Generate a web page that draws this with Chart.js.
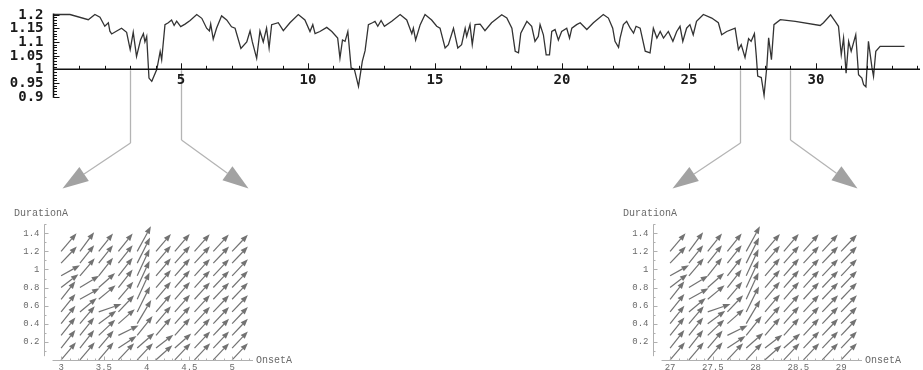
<!DOCTYPE html>
<html>
<head>
<meta charset="utf-8">
<title>Ratio over time with OnsetA / DurationA fields</title>
<script src="https://cdn.jsdelivr.net/npm/chart.js@4.4.1/dist/chart.umd.min.js"></script>
<style>
  html, body { margin: 0; padding: 0; background: #fff; }
  body { width: 923px; height: 370px; position: relative; overflow: hidden; }
  canvas { position: absolute; display: block; }
  #ratioChart { left: 0; top: 0; }
  #fieldLeft { left: 0; top: 200px; }
  #fieldRight { left: 609px; top: 200px; }
</style>
</head>
<body>
<canvas id="ratioChart" width="923" height="200"></canvas>
<canvas id="fieldLeft" width="300" height="170"></canvas>
<canvas id="fieldRight" width="314" height="170"></canvas>

<script>
// ---- top series ----
const timeX = [0, 0.63, 1.35, 1.61, 1.81, 2.0, 2.14, 2.2, 2.27, 2.47, 2.66, 2.86, 3.0, 3.12, 3.25, 3.41, 3.52, 3.58, 3.65, 3.74,
  3.85, 4.05, 4.18, 4.24, 4.37, 4.5, 4.63, 4.73, 4.83, 4.99, 5.16, 5.36, 5.62, 5.82, 6.01, 6.12, 6.17, 6.27, 6.4, 6.6,
  6.8, 6.99, 7.13, 7.36, 7.59, 7.72, 7.81, 7.98, 8.11, 8.24, 8.37, 8.47, 8.57, 8.83, 9.03, 9.29, 9.62, 9.88, 10.08, 10.19,
  10.28, 10.47, 10.74, 10.94, 11.17, 11.26, 11.36, 11.46, 11.57, 11.7, 11.83, 11.99, 12.14, 12.25, 12.38, 12.54, 12.64, 12.75, 12.88, 13.01,
  13.3, 13.63, 13.89, 14.09, 14.15, 14.24, 14.42, 14.61, 14.87, 15.07, 15.2, 15.4, 15.53, 15.73, 15.9, 16.05, 16.19, 16.25, 16.38, 16.47,
  16.58, 16.78, 16.97, 17.23, 17.63, 17.83, 18.03, 18.16, 18.29, 18.38, 18.62, 18.81, 18.94, 19.07, 19.14, 19.27, 19.38, 19.51, 19.6, 19.73,
  19.86, 19.99, 20.19, 20.3, 20.39, 20.58, 20.72, 20.98, 21.24, 21.63, 21.83, 22.0, 22.09, 22.23, 22.29, 22.42, 22.55, 22.69, 22.82, 22.92,
  23.08, 23.28, 23.47, 23.6, 23.74, 23.87, 24.0, 24.19, 24.37, 24.52, 24.65, 24.76, 24.91, 25.04, 25.17, 25.3, 25.57, 25.9, 26.16, 26.29,
  26.49, 26.82, 26.95, 27.06, 27.21, 27.35, 27.45, 27.58, 27.65, 27.71, 27.85, 27.96, 28.07, 28.14, 28.25, 28.35, 28.6, 29.19, 30.17, 30.3,
  30.58, 30.76, 30.89, 31.0, 31.09, 31.19, 31.29, 31.39, 31.57, 31.68, 31.81, 31.88, 31.97, 32.07, 32.21, 32.27, 32.36, 32.53, 33.49];
const ratioY = [1.2, 1.2, 1.181, 1.2, 1.19, 1.157, 1.17, 1.139, 1.129, 1.14, 1.15, 1.135, 1.072, 1.135, 1.047, 1.108, 1.13, 1.1, 1.12, 0.968,
  0.956, 1.0, 1.065, 1.035, 1.163, 1.17, 1.18, 1.16, 1.176, 1.156, 1.165, 1.178, 1.2, 1.186, 1.15, 1.14, 1.165, 1.11, 1.15, 1.195,
  1.18, 1.155, 1.15, 1.076, 1.1, 1.14, 1.1, 1.04, 1.14, 1.1, 1.15, 1.078, 1.163, 1.17, 1.141, 1.17, 1.2, 1.18, 1.138, 1.163,
  1.13, 1.138, 1.153, 1.138, 1.114, 1.041, 1.107, 1.102, 1.138, 1.005, 0.999, 0.938, 1.029, 1.068, 1.163, 1.17, 1.175, 1.157, 1.178, 1.157,
  1.175, 1.2, 1.18, 1.13, 1.15, 1.107, 1.163, 1.2, 1.18, 1.157, 1.15, 1.078, 1.09, 1.15, 1.078, 1.09, 1.15, 1.12, 1.163, 1.09,
  1.163, 1.165, 1.141, 1.17, 1.199, 1.187, 1.15, 1.066, 1.06, 1.132, 1.175, 1.157, 1.102, 1.12, 1.163, 1.126, 1.053, 1.053, 1.138, 1.145,
  1.107, 1.138, 1.15, 1.114, 1.15, 1.163, 1.17, 1.145, 1.17, 1.2, 1.187, 1.15, 1.102, 1.08, 1.114, 1.163, 1.175, 1.15, 1.132, 1.157,
  1.15, 1.066, 1.06, 1.15, 1.114, 1.138, 1.114, 1.138, 1.102, 1.138, 1.157, 1.102, 1.15, 1.163, 1.126, 1.175, 1.2, 1.187, 1.17, 1.126,
  1.138, 1.15, 1.072, 1.09, 1.043, 1.112, 1.102, 1.13, 1.053, 0.975, 0.97, 0.905, 1.011, 1.115, 1.035, 1.163, 1.181, 1.175, 1.16, 1.17,
  1.199, 1.175, 1.157, 1.053, 1.114, 0.986, 1.102, 1.066, 1.126, 0.98, 0.968, 0.944, 0.936, 1.102, 1.005, 0.974, 1.066, 1.084, 1.084];
const timeTicks = [5, 10, 15, 20, 25, 30];
const ratioTicks = [0.9, 0.95, 1, 1.05, 1.1, 1.15, 1.2];
const zoomMarks = [3, 5, 27, 29];

// ---- vector fields ----
const onsetLeft = [3, 3.22, 3.44, 3.67, 3.89, 4.11, 4.33, 4.56, 4.78, 5];
const onsetRight = [27, 27.22, 27.44, 27.67, 27.89, 28.11, 28.33, 28.56, 28.78, 29];
const durationA = [0, 0.13, 0.27, 0.4, 0.53, 0.67, 0.8, 0.93, 1.07, 1.2];
const onsetTicksLeft = [3, 3.5, 4, 4.5, 5];
const onsetTicksRight = [27, 27.5, 28, 28.5, 29];
const durationTicks = [0.2, 0.4, 0.6, 0.8, 1, 1.2, 1.4];
const onsetRangeLeft = [2.8, 5.244];
const onsetRangeRight = [26.8, 29.244];
// direction in degrees, top row (DurationA 1.2) first
const fieldAngle = [
  [48, 52, 50, 50, 60, 48, 48, 47, 46, 45],
  [45, 50, 50, 50, 62, 48, 47, 46, 45, 45],
  [28, 48, 50, 50, 64, 48, 47, 46, 45, 45],
  [36, 30, 40, 50, 64, 48, 47, 46, 45, 45],
  [50, 28, 38, 48, 64, 48, 47, 46, 45, 45],
  [50, 38, 18, 45, 62, 48, 47, 46, 45, 45],
  [50, 48, 35, 40, 58, 48, 47, 46, 45, 45],
  [50, 50, 42, 25, 50, 48, 47, 46, 45, 45],
  [50, 50, 48, 32, 40, 36, 40, 45, 45, 45],
  [48, 48, 48, 45, 45, 40, 45, 45, 45, 45]
];
const fieldMagnitude = [
  [0.27, 0.27, 0.26, 0.26, 0.32, 0.26, 0.26, 0.26, 0.26, 0.26],
  [0.26, 0.26, 0.26, 0.26, 0.32, 0.26, 0.26, 0.26, 0.26, 0.26],
  [0.25, 0.26, 0.26, 0.26, 0.33, 0.26, 0.26, 0.26, 0.26, 0.26],
  [0.25, 0.26, 0.25, 0.26, 0.33, 0.26, 0.26, 0.26, 0.26, 0.26],
  [0.26, 0.26, 0.25, 0.26, 0.33, 0.26, 0.26, 0.26, 0.26, 0.26],
  [0.26, 0.25, 0.28, 0.26, 0.32, 0.26, 0.26, 0.26, 0.26, 0.26],
  [0.26, 0.26, 0.25, 0.25, 0.31, 0.26, 0.26, 0.26, 0.26, 0.26],
  [0.26, 0.26, 0.26, 0.26, 0.28, 0.26, 0.26, 0.26, 0.26, 0.26],
  [0.26, 0.26, 0.26, 0.25, 0.26, 0.25, 0.25, 0.26, 0.26, 0.26],
  [0.26, 0.26, 0.26, 0.26, 0.26, 0.25, 0.26, 0.26, 0.26, 0.26]
];

function drawArrow(ctx, x1, y1, x2, y2, head, halfW) {
  const a = Math.atan2(y2 - y1, x2 - x1);
  const bx = x2 - head * Math.cos(a), by = y2 - head * Math.sin(a);
  ctx.beginPath();
  ctx.moveTo(x1, y1);
  ctx.lineTo(bx, by);
  ctx.stroke();
  ctx.beginPath();
  ctx.moveTo(x2, y2);
  ctx.lineTo(bx + halfW * Math.sin(a), by - halfW * Math.cos(a));
  ctx.lineTo(bx - halfW * Math.sin(a), by + halfW * Math.cos(a));
  ctx.closePath();
  ctx.fill();
}

// axes crossing at (0, 1), ticks, labels and the zoom connectors
const ratioAxes = {
  id: 'ratioAxes',
  afterDraw(chart) {
    const { ctx, scales: { x, y } } = chart;
    const ax = Math.round(x.getPixelForValue(0)) - 0.5;
    const ay = y.getPixelForValue(1);
    ctx.save();

    // connectors down to the field plots
    ctx.strokeStyle = '#b4b4b4';
    ctx.fillStyle = '#a2a2a2';
    ctx.lineWidth = 1.3;
    zoomMarks.forEach((m, i) => {
      const px = Math.round(x.getPixelForValue(m)) + 0.5;
      const left = i % 2 === 0;
      const bend = left ? 143 : 140;
      ctx.beginPath();
      ctx.moveTo(px, ay + 1);
      ctx.lineTo(px, bend);
      ctx.stroke();
      drawArrow(ctx, px, bend, left ? px - 68 : px + 67, 188.5, 26, 8.5);
    });

    ctx.strokeStyle = '#111';
    ctx.lineWidth = 1.5;
    ctx.beginPath();
    ctx.moveTo(ax, y.getPixelForValue(1.2) - 1);
    ctx.lineTo(ax, y.getPixelForValue(0.9) + 1);
    ctx.moveTo(ax, ay);
    ctx.lineTo(x.right, ay);
    ctx.stroke();

    ctx.lineWidth = 1;
    ctx.beginPath();
    for (let k = 90; k <= 120; k++) {
      const py = Math.round(y.getPixelForValue(k / 100)) + 0.5;
      ctx.moveTo(ax, py);
      ctx.lineTo(ax + (k % 5 === 0 ? 6 : 3.5), py);
    }
    for (let t = 1; t <= 34; t++) {
      const px = Math.round(x.getPixelForValue(t)) + 0.5;
      ctx.moveTo(px, ay);
      ctx.lineTo(px, ay - (t % 5 === 0 ? 6 : 3.5));
    }
    ctx.stroke();

    ctx.fillStyle = '#1a1a1a';
    ctx.font = 'bold 14px "DejaVu Sans Mono"';
    ctx.textAlign = 'right';
    ctx.textBaseline = 'middle';
    ratioTicks.forEach(v => ctx.fillText(String(v), ax - 10, y.getPixelForValue(v) + 0.5));
    ctx.textAlign = 'center';
    ctx.textBaseline = 'top';
    timeTicks.forEach(v => ctx.fillText(String(v), x.getPixelForValue(v), ay + 4));
    ctx.restore();
  }
};

new Chart(document.getElementById('ratioChart'), {
  type: 'line',
  data: {
    datasets: [{
      data: timeX.map((t, i) => ({ x: t, y: ratioY[i] })),
      borderColor: '#333',
      borderWidth: 1.3,
      pointRadius: 0,
      tension: 0,
      clip: 4
    }]
  },
  options: {
    responsive: false,
    animation: false,
    devicePixelRatio: 1,
    layout: { padding: { left: 54, right: 3, top: 14.5, bottom: 103.3 } },
    scales: {
      x: { type: 'linear', display: false, min: 0, max: 34.1 },
      y: { type: 'linear', display: false, min: 0.9, max: 1.2 }
    },
    plugins: { legend: { display: false }, tooltip: { enabled: false } }
  },
  plugins: [ratioAxes]
});

// arrows, axes and labels of a field plot
function fieldAxes(onsetTicks) {
  return {
    id: 'fieldAxes',
    afterDatasetsDraw(chart) {
      const { ctx, scales: { x, y } } = chart;
      const pts = chart.data.datasets[0].data;
      const meta = chart.getDatasetMeta(0);
      ctx.save();
      ctx.strokeStyle = '#727272';
      ctx.fillStyle = '#727272';
      ctx.lineWidth = 1.2;
      meta.data.forEach((el, i) => {
        const p = pts[i];
        drawArrow(ctx, el.x, el.y, x.getPixelForValue(p.x + p.u), y.getPixelForValue(p.y + p.v), 7.5, 2.8);
      });

      const ax = Math.round(x.left) + 0.5;
      const ay = Math.round(y.getPixelForValue(0)) + 0.5;
      ctx.strokeStyle = '#b0b0b0';
      ctx.lineWidth = 1;
      ctx.beginPath();
      ctx.moveTo(ax, y.getPixelForValue(0.04));
      ctx.lineTo(ax, y.getPixelForValue(1.5));
      ctx.moveTo(x.getPixelForValue(onsetTicks[0] - 0.1), ay);
      ctx.lineTo(x.right, ay);
      for (let k = 1; k <= 15; k++) {
        const py = Math.round(y.getPixelForValue(k / 10)) + 0.5;
        ctx.moveTo(ax, py);
        ctx.lineTo(ax + (k % 2 === 0 ? 4 : 2), py);
      }
      for (let k = 0; k <= 22; k++) {
        const v = onsetTicks[0] + k / 10;
        const px = Math.round(x.getPixelForValue(v)) + 0.5;
        ctx.moveTo(px, ay);
        ctx.lineTo(px, ay - (k % 5 === 0 ? 4 : 2));
      }
      ctx.stroke();

      ctx.fillStyle = '#6a6a6a';
      ctx.font = '9px "Liberation Mono"';
      ctx.textAlign = 'right';
      ctx.textBaseline = 'middle';
      durationTicks.forEach(v => ctx.fillText(String(v), ax - 5, y.getPixelForValue(v)));
      ctx.textAlign = 'center';
      ctx.textBaseline = 'top';
      onsetTicks.forEach(v => ctx.fillText(String(v), x.getPixelForValue(v), ay + 3));
      ctx.font = '10px "Liberation Mono"';
      ctx.textAlign = 'left';
      ctx.textBaseline = 'middle';
      ctx.fillText('OnsetA', x.right + 3, ay);
      ctx.fillText('DurationA', 14, 13.5);
      ctx.restore();
    }
  };
}

function fieldChart(id, onsets, range, onsetTicks, width) {
  const points = [];
  durationA.forEach((d, j) => {
    const row = durationA.length - 1 - j;
    onsets.forEach((o, i) => {
      const a = fieldAngle[row][i] * Math.PI / 180;
      const m = fieldMagnitude[row][i];
      points.push({ x: o, y: d, u: m * Math.cos(a), v: m * Math.sin(a) });
    });
  });
  return new Chart(document.getElementById(id), {
    type: 'scatter',
    data: { datasets: [{ data: points, pointRadius: 0, pointHoverRadius: 0 }] },
    options: {
      responsive: false,
      animation: false,
      devicePixelRatio: 1,
      layout: { padding: { left: 44, right: width - 253, top: 24.3, bottom: 10.2 } },
      scales: {
        x: { type: 'linear', display: false, min: range[0], max: range[1] },
        y: { type: 'linear', display: false, min: 0, max: 1.5 }
      },
      plugins: { legend: { display: false }, tooltip: { enabled: false } }
    },
    plugins: [fieldAxes(onsetTicks)]
  });
}

fieldChart('fieldLeft', onsetLeft, onsetRangeLeft, onsetTicksLeft, 300);
fieldChart('fieldRight', onsetRight, onsetRangeRight, onsetTicksRight, 314);
</script>
</body>
</html>
